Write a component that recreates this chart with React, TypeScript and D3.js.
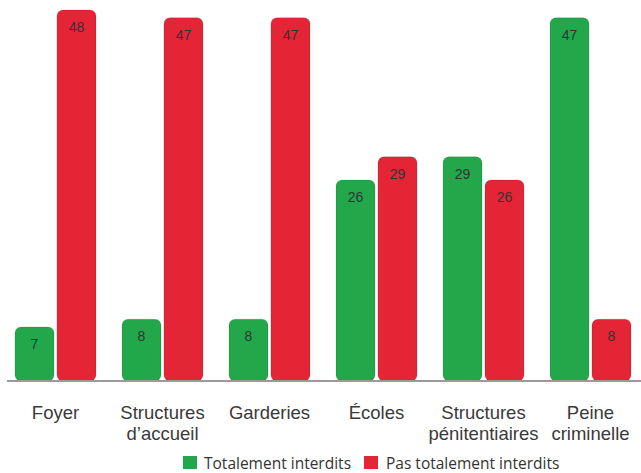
import React from "react";
import * as d3 from "d3";

const categories: string[][] = [
  ["Foyer"],
  ["Structures", "d\u2019accueil"],
  ["Garderies"],
  ["\u00c9coles"],
  ["Structures", "p\u00e9nitentiaires"],
  ["Peine", "criminelle"],
];
const totalement: number[] = [7, 8, 8, 26, 29, 47];
const pasTotalement: number[] = [48, 47, 47, 29, 26, 8];
const seriesNames: string[] = ["Totalement interdits", "Pas totalement interdits"];
const seriesColors: string[] = ["#22a84b", "#e42536"];

const W = 641;
const H = 473;
const baseY = 381;

export default function App() {
  const keys = categories.map((c) => c.join(" "));
  const x0 = d3
    .scaleBand<string>()
    .domain(keys)
    .range([2, 644])
    .paddingInner(26 / 107)
    .paddingOuter(13 / 107);
  const x1 = d3
    .scaleBand<string>()
    .domain(["a", "b"])
    .range([0, x0.bandwidth()])
    .paddingInner(0.07)
    .paddingOuter(0);
  const y = d3.scaleLinear().domain([0, 48]).range([baseY, 10]);

  const series = [totalement, pasTotalement];
  const sub = ["a", "b"];

  return (
    <svg
      width={W}
      height={H}
      style={{ position: "absolute", left: 0, top: 0, background: "#fff" }}
      fontFamily="'Liberation Sans', Arial, sans-serif"
    >
      {keys.map((k, i) => (
        <g key={k} transform={`translate(${x0(k)},0)`}>
          {series.map((vals, s) => {
            const v = vals[i];
            const bx = x1(sub[s])!;
            const bw = x1.bandwidth();
            const top = y(v);
            return (
              <g key={s}>
                <rect
                  x={bx}
                  y={top}
                  width={bw}
                  height={baseY - top}
                  rx={6}
                  ry={6}
                  fill={seriesColors[s]}
                  stroke="rgba(0,0,0,0.12)"
                  strokeWidth={1}
                />
                <text
                  x={bx + bw / 2}
                  y={top + 22}
                  textAnchor="middle"
                  fontSize={14}
                  fill="#333"
                >
                  {v}
                </text>
              </g>
            );
          })}
          {categories[i].map((line, li) => (
            <text
              key={li}
              x={x0.bandwidth() / 2}
              y={419 + li * 21}
              textAnchor="middle"
              fontSize={18.5}
              fill="#3a3a3a"
            >
              {line}
            </text>
          ))}
        </g>
      ))}
      <line x1={7} x2={W} y1={baseY} y2={baseY} stroke="#9a9a9a" strokeWidth={2} />
      <g fontFamily="'Open Sans', 'Noto Sans', sans-serif" fontSize={15.5} fill="#333">
        <rect x={183} y={456} width={14} height={13} fill={seriesColors[0]} />
        <text x={204} y={469}>{seriesNames[0]}</text>
        <rect x={364} y={456} width={14} height={13} fill={seriesColors[1]} />
        <text x={386} y={469}>{seriesNames[1]}</text>
      </g>
    </svg>
  );
}
